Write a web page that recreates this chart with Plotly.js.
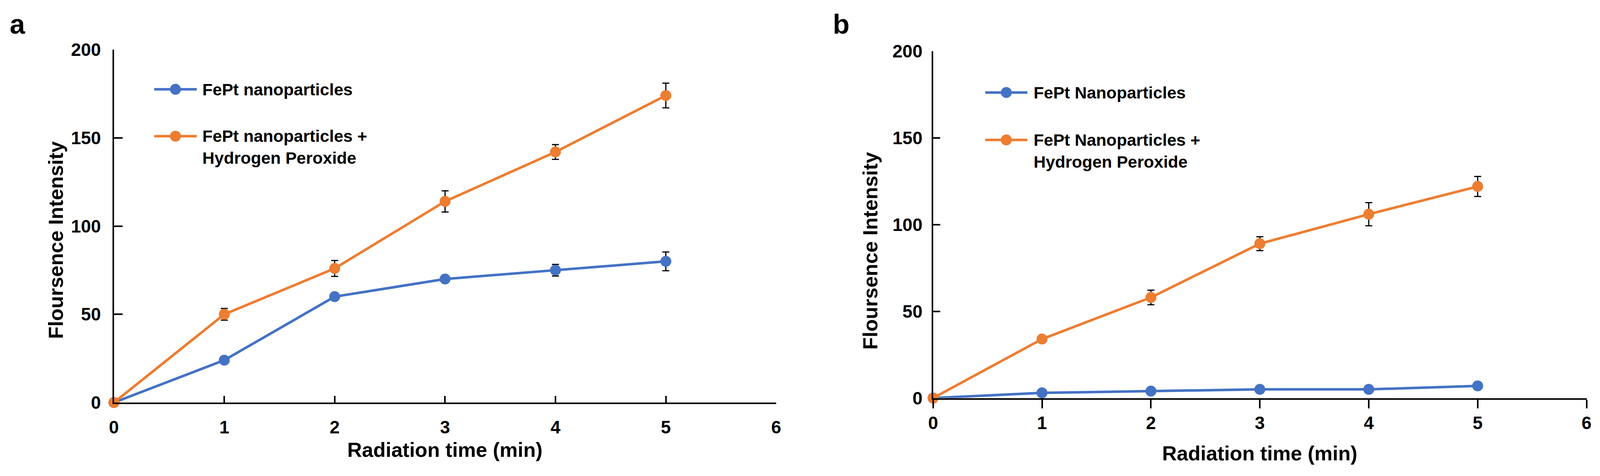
<!DOCTYPE html>
<html><head><meta charset="utf-8">
<script src="https://cdn.plot.ly/plotly-3.0.1.min.js"></script>
<style>html,body{margin:0;padding:0;background:#fff;overflow:hidden}#chart{width:100%;height:1218px}</style>
</head><body><div id="chart"></div>
<script>
// ---- data ----
const timeMin = [0, 1, 2, 3, 4, 5];
const aNano = [0, 24, 60, 70, 75, 80];
const aNanoErr = [0, 1.5, 1.5, 1.5, 3.3, 5.3];
const aNanoH2O2 = [0, 50, 76, 114, 142, 174];
const aNanoH2O2Err = [0, 3.3, 4.5, 6, 4.2, 7];
const bNano = [0, 3, 4, 5, 5, 7];
const bNanoErr = [0, 0.5, 0.5, 0.5, 0.5, 0.5];
const bNanoH2O2 = [0, 34, 58, 89, 106, 122];
const bNanoH2O2Err = [0, 2, 4.2, 4, 6.7, 5.8];
const xTicks = [0, 1, 2, 3, 4, 5, 6];
const yTicks = [0, 50, 100, 150, 200];
const legendA = ['FePt nanoparticles', 'FePt nanoparticles +<br>Hydrogen Peroxide'];
const legendB = ['FePt Nanoparticles', 'FePt Nanoparticles +<br>Hydrogen Peroxide'];
const panelLabels = ['a', 'b'];
const xTitle = 'Radiation time (min)';
const yTitle = 'Floursence Intensity';

// ---- style ----
// Layout is designed on a 4172 x 1218 canvas and scaled horizontally to the real window width.
const REF_W = 4172, H = 1218;
const W = Math.min(window.innerWidth || REF_W, REF_W);
const BLUE = '#4472C4', ORANGE = '#ED7D31';
const FONT = 'Liberation Sans, Arial, sans-serif';
const px = v => v / REF_W;
const py = v => 1 - v / H;

function series(y, err, color, name, xa, ya) {
  return {
    x: timeMin, y: y, name: name, type: 'scatter', mode: 'lines+markers',
    xaxis: xa, yaxis: ya, cliponaxis: false, showlegend: false,
    line: {color: color, width: 6.5},
    marker: {color: color, size: 28},
    error_y: {type: 'data', array: err, visible: true, color: '#000', thickness: 3, width: 9}
  };
}

const data = [
  series(aNano, aNanoErr, BLUE, legendA[0], 'x', 'y'),
  series(aNanoH2O2, aNanoH2O2Err, ORANGE, legendA[1], 'x', 'y'),
  series(bNano, bNanoErr, BLUE, legendB[0], 'x2', 'y2'),
  series(bNanoH2O2, bNanoH2O2Err, ORANGE, legendB[1], 'x2', 'y2')
];

const tickfont = {family: FONT, size: 46, color: '#000', weight: 'bold'};
function xax(dom, ticks, anchor, standoff, ticklen) {
  return {domain: dom, range: [0, 6], tickvals: xTicks, ticktext: xTicks.map(String),
    showline: true, linewidth: 4, linecolor: '#000', ticks: ticks, ticklen: ticklen,
    tickwidth: 4, tickcolor: '#000', showgrid: false, zeroline: false,
    tickfont: tickfont, ticklabelstandoff: standoff, ticklabeloverflow: 'allow',
    anchor: anchor, fixedrange: true};
}
function yax(dom, anchor, standoff, ticklen) {
  return {domain: dom, range: [0, 200], tickvals: yTicks, ticktext: yTicks.map(String),
    showline: true, linewidth: 4, linecolor: '#000', ticks: 'inside', ticklen: ticklen,
    tickwidth: 4, tickcolor: '#000', showgrid: false, zeroline: false,
    tickfont: tickfont, ticklabelstandoff: standoff, ticklabeloverflow: 'allow',
    anchor: anchor, fixedrange: true};
}

const ann = [];
const shapes = [];
function text(t, x, y, size, opts) {
  ann.push(Object.assign({text: t, x: px(x), y: py(y), xref: 'paper', yref: 'paper',
    showarrow: false, font: {family: FONT, size: size, color: '#000', weight: 'bold'},
    xanchor: 'center', yanchor: 'middle'}, opts || {}));
}
function legendItem(color, x0, x1, y) {
  shapes.push({type: 'line', xref: 'paper', yref: 'paper', x0: px(x0), x1: px(x1), y0: py(y), y1: py(y),
    line: {color: color, width: 6.5}});
  shapes.push({type: 'circle', xref: 'paper', yref: 'paper', xsizemode: 'pixel', ysizemode: 'pixel',
    xanchor: px((x0 + x1) / 2), yanchor: py(y), x0: -14, x1: 14, y0: -14, y1: 14,
    fillcolor: color, line: {width: 0}});
}

// panel labels
text(panelLabels[0], 46, 62, 70);
text(panelLabels[1], 2193, 62, 70);
// axis titles
text(xTitle, 1160, 1151, 52);
text(xTitle, 3285, 1160, 52);
text(yTitle, 146, 614, 52, {textangle: -90});
text(yTitle, 2269, 642, 52, {textangle: -90});
// legends
legendItem(BLUE, 402, 513, 228.6);
legendItem(ORANGE, 402, 513, 348.5);
text(legendA[0], 526, 228.6, 43, {xanchor: 'left', align: 'left'});
text(legendA[1], 526, 376.5, 43, {xanchor: 'left', align: 'left'});
legendItem(BLUE, 2569, 2679, 236.7);
legendItem(ORANGE, 2569, 2679, 358);
text(legendB[0], 2693, 236.7, 43, {xanchor: 'left', align: 'left'});
text(legendB[1], 2693, 386, 43, {xanchor: 'left', align: 'left'});

const layout = {
  width: W, height: H, margin: {l: 0, r: 0, t: 0, b: 0},
  paper_bgcolor: '#fff', plot_bgcolor: 'rgba(0,0,0,0)', showlegend: false,
  xaxis: xax([px(297), px(2024)], 'inside', 'y', 20, 17),
  yaxis: yax([py(1030), py(127)], 'x', 20, 22),
  xaxis2: xax([px(2433), px(4137)], 'outside', 'y2', -2, 22),
  yaxis2: yax([py(1018.5), py(131)], 'x2', 14, 18),
  annotations: ann, shapes: shapes
};

Plotly.newPlot('chart', data, layout, {staticPlot: true, displayModeBar: false});
</script></body></html>
